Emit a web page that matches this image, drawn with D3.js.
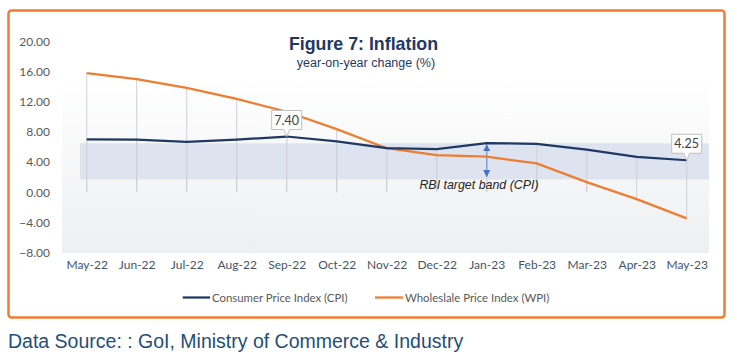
<!DOCTYPE html>
<html><head><meta charset="utf-8">
<script src="https://cdn.jsdelivr.net/npm/d3@7"></script>
<style>html,body{margin:0;padding:0;background:#fff;}svg{display:block;}</style>
</head><body>
<svg id="chart" width="737" height="358"></svg>
<script>
const categories = ["May-22","Jun-22","Jul-22","Aug-22","Sep-22","Oct-22","Nov-22","Dec-22","Jan-23","Feb-23","Mar-23","Apr-23","May-23"];
const cpi = [7.04,7.01,6.71,7.00,7.41,6.77,5.88,5.72,6.52,6.44,5.66,4.70,4.25];
const wpi = [15.85,15.06,13.87,12.41,10.70,8.39,5.85,4.93,4.73,3.83,1.34,-0.92,-3.48];
const band = [1.7, 6.5];
const yTicks = [20,16,12,8,4,0,-4,-8];
const cpiLabels = [{i:4, text:"7.40"},{i:12, text:"4.25"}];
const seriesNames = ["Consumer Price Index (CPI)","Wholeslale Price Index (WPI)"];

const svg = d3.select("#chart");
const x = d3.scalePoint().domain(categories).range([61.7, 711.7]).padding(0.5);
const y = d3.scaleLinear().domain([-8, 20]).range([252.3, 41.9]);

// border
svg.append("rect").attr("x",8.5).attr("y",10.5).attr("width",716).attr("height",307)
  .attr("rx",3).attr("fill","#fff").attr("stroke","#ed7d31").attr("stroke-width",2.5);

// plot bg gradient
const defs = svg.append("defs");
const g1 = defs.append("linearGradient").attr("id","bg").attr("x1",0).attr("y1",0).attr("x2",0).attr("y2",1);
g1.append("stop").attr("offset","0%").attr("stop-color","#ffffff");
g1.append("stop").attr("offset","100%").attr("stop-color","#eeeff1");
svg.append("rect").attr("x",62).attr("y",77).attr("width",647).attr("height",y(-8)-77+0.7).attr("fill","url(#bg)");

// band
svg.append("rect").attr("x",80).attr("width",709-80)
  .attr("y",y(band[1])).attr("height",y(band[0])-y(band[1])).attr("fill","#dde4f0");

// drop lines
categories.forEach((c,i)=>{
  [cpi[i], wpi[i]].forEach(v=>{
    svg.append("line").attr("x1",x(c)).attr("x2",x(c)).attr("y1",y(v)).attr("y2",y(0))
      .attr("stroke","#cfd0d4").attr("stroke-width",1);
  });
});

// y axis
const yAxis = svg.append("g").attr("transform","translate(50,0)")
  .call(d3.axisLeft(y).tickValues(yTicks).tickSize(0).tickPadding(0).tickFormat(d3.format(".2f")));
yAxis.select(".domain").remove();
yAxis.selectAll("text").attr("font-family","Lato, sans-serif").attr("font-size","12px").attr("fill","#595959");

// x axis
const xAxis = svg.append("g").attr("transform","translate(0,260)")
  .call(d3.axisBottom(x).tickSize(0).tickPadding(0));
xAxis.select(".domain").remove();
xAxis.selectAll("text").attr("font-family","Lato, sans-serif").attr("font-size","12px").attr("fill","#44546a");

// arrow
const ax = x("Jan-23");
const mk = defs.append("marker").attr("id","ah").attr("viewBox","0 0 10 10").attr("refX",9).attr("refY",5)
  .attr("markerWidth",7).attr("markerHeight",7).attr("orient","auto-start-reverse").attr("markerUnits","userSpaceOnUse");
mk.append("path").attr("d","M0,0L10,5L0,10Z").attr("fill","#4472c4");
svg.append("line").attr("x1",ax).attr("x2",ax).attr("y1",y(band[1])+1.5).attr("y2",y(band[0])-3)
  .attr("stroke","#7f9fd6").attr("stroke-width",1.5)
  .attr("marker-start","url(#ah)").attr("marker-end","url(#ah)");

svg.append("text").attr("x",479).attr("y",189).attr("text-anchor","middle")
  .attr("font-family","'Liberation Sans', Arial, sans-serif").attr("font-style","italic").attr("font-size","12.4px")
  .attr("fill","#262626").text("RBI target band (CPI)");

// lines
const line = d3.line().x((d,i)=>x(categories[i])).y(d=>y(d));
svg.append("path").datum(wpi).attr("d",line).attr("fill","none").attr("stroke","#ed7d31").attr("stroke-width",2.25);
svg.append("path").datum(cpi).attr("d",line).attr("fill","none").attr("stroke","#1f3864").attr("stroke-width",2.25);

// callouts
cpiLabels.forEach(l=>{
  const px = x(categories[l.i]), py = y(cpi[l.i]);
  const w = 30, h = 19, bx = px - w/2, by = py - 7 - h;
  svg.append("path")
    .attr("d",`M${bx},${by}H${bx+w}V${by+h}H${px+3}L${px},${py}L${px-3},${by+h}H${bx}Z`)
    .attr("fill","#fff").attr("stroke","#bfbfbf").attr("stroke-width",1);
  svg.append("text").attr("x",px).attr("y",by+14).attr("text-anchor","middle")
    .attr("font-family","Lato, sans-serif").attr("font-size","12.5px").attr("fill","#404040").text(l.text);
});

// title
svg.append("text").attr("x",363.5).attr("y",50).attr("text-anchor","middle")
  .attr("font-family","'Liberation Sans', Arial, sans-serif").attr("font-weight","bold").attr("font-size","17.8px")
  .attr("fill","#1f3864").text("Figure 7: Inflation");
svg.append("text").attr("x",366).attr("y",67).attr("text-anchor","middle")
  .attr("font-family","'Liberation Sans', Arial, sans-serif").attr("font-size","12.5px")
  .attr("fill","#1f3864").text("year-on-year change (%)");

// legend
const legend = [{x1:182.7, x2:210, color:"#1f3864", name:seriesNames[0]},{x1:375, x2:403, color:"#ed7d31", name:seriesNames[1]}];
legend.forEach(l=>{
  svg.append("line").attr("x1",l.x1).attr("x2",l.x2).attr("y1",297.5).attr("y2",297.5).attr("stroke",l.color).attr("stroke-width",2.25);
  svg.append("text").attr("x",l.x2+2).attr("y",301.5).attr("font-family","Lato, sans-serif").attr("font-size","11.4px")
    .attr("fill","#595959").text(l.name);
});

// source
svg.append("text").attr("x",8).attr("y",348).attr("font-family","'Liberation Sans', Arial, sans-serif").attr("font-size","19.5px")
  .attr("fill","#1f4e79").text("Data Source: : GoI, Ministry of Commerce & Industry");
</script>
</body></html>
